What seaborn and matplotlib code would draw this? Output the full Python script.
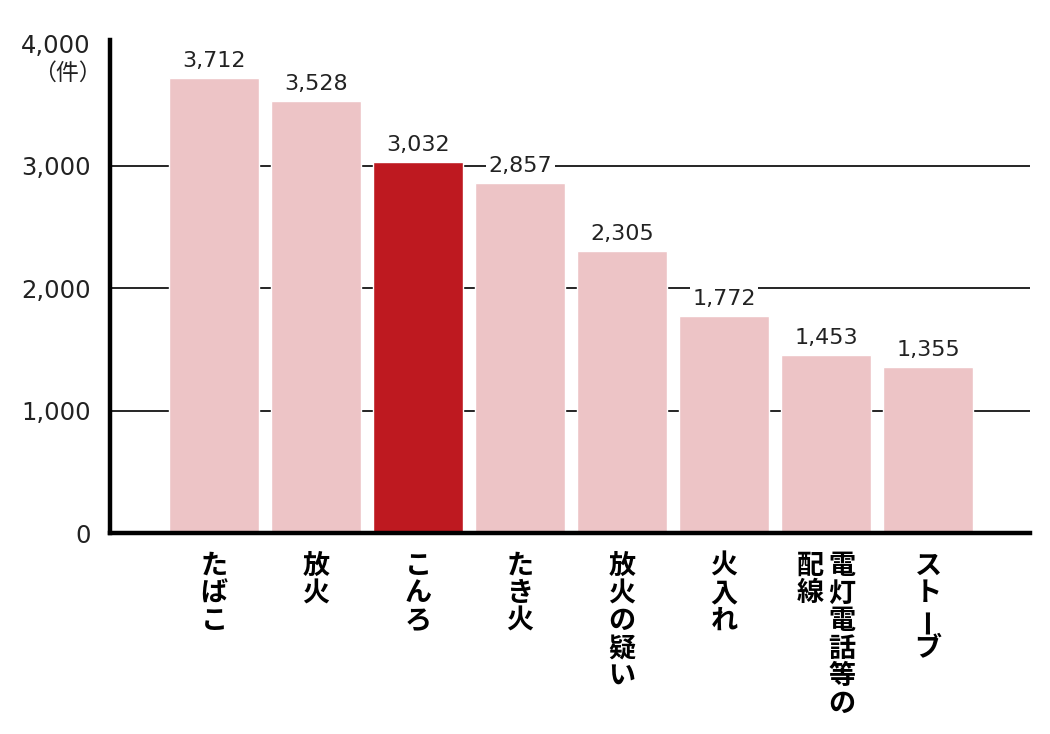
import matplotlib
matplotlib.use("Agg")
import matplotlib.pyplot as plt
import seaborn as sns
import pandas as pd

# データ
categories = ["たばこ", "放火", "こんろ", "たき火", "放火の疑い", "火入れ", "電灯電話等の配線", "ストーブ"]
# 縦書きの列（右から左）
label_columns = [["たばこ"], ["放火"], ["こんろ"], ["たき火"], ["放火の疑い"], ["火入れ"],
                 ["電灯電話等の", "配線"], ["ストーブ"]]
counts = [3712, 3528, 3032, 2857, 2305, 1772, 1453, 1355]
highlight = "こんろ"
y_ticks = [0, 1000, 2000, 3000, 4000]
unit_label = "（件）"

pink = "#EDC4C6"
red = "#BE1920"
colors = [red if c == highlight else pink for c in categories]

sns.set_theme(style="white")
plt.rcParams["font.family"] = ["Noto Sans CJK JP", "DejaVu Sans"]
num_font = ["DejaVu Sans"]

df = pd.DataFrame({"cat": categories, "count": counts})

fig = plt.figure(figsize=(10.5, 7.34), dpi=100)
ax = fig.add_axes([0.1048, 0.2738, 0.8762, 0.6717])

sns.barplot(data=df, x="cat", y="count", hue="cat", palette=colors, legend=False,
            width=0.89, saturation=1, ax=ax, zorder=3)

# 目盛線（0と最上段を除く）
for t in y_ticks[1:-1]:
    ax.axhline(t, color="black", lw=1.2, zorder=1)

ax.set_xlim(-1.02, 8.0)
ax.set_ylim(0, 4025)
ax.set_yticks(y_ticks)
ax.set_yticklabels([f"{t:,}" for t in y_ticks], fontsize=17.5, color="#222222",
                   family=num_font)
ax.tick_params(axis="y", length=0, pad=14)
ax.tick_params(axis="x", length=0, labelbottom=False)
ax.set_xlabel("")
ax.set_ylabel("")

for side in ["top", "right"]:
    ax.spines[side].set_visible(False)
for side in ["left", "bottom"]:
    ax.spines[side].set_color("black")
    ax.spines[side].set_linewidth(3.2)
    ax.spines[side].set_zorder(5)

# 単位
ax.annotate(unit_label, xy=(0, 4000), xycoords=("axes fraction", "data"),
            xytext=(-6, -22), textcoords="offset points", ha="right", va="center",
            fontsize=16.5, color="#222222")

# 値ラベル
for cont in ax.containers:
    ax.bar_label(cont, labels=[f"{int(round(v)):,}" for v in cont.datavalues], padding=5,
                 fontsize=16, color="#222222", zorder=6, family=num_font,
                 bbox=dict(facecolor="white", edgecolor="none", pad=2))

# 縦書きラベル
pitch = 19.9
col_gap = 22.5
for i, cols in enumerate(label_columns):
    n = len(cols)
    for j, col in enumerate(cols):
        dx = ((n - 1) / 2 - j) * col_gap
        for k, ch in enumerate(col):
            ax.annotate(ch, xy=(i, 0), xycoords=("data", "axes fraction"),
                        xytext=(dx, -13.5 - k * pitch), textcoords="offset points",
                        ha="center", va="top", fontsize=19.5, fontweight="bold",
                        color="black", rotation=90 if ch == "ー" else 0,
                        annotation_clip=False)

fig.savefig("out.png", dpi=100)
